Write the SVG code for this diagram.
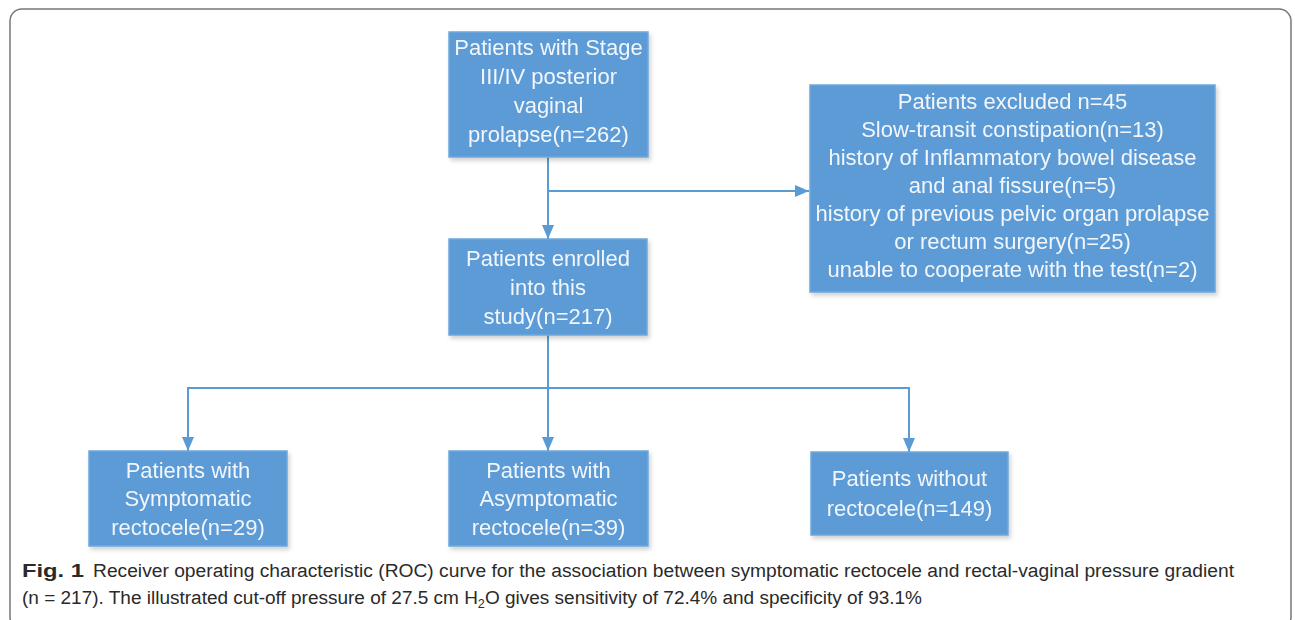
<svg xmlns="http://www.w3.org/2000/svg" width="1295" height="620" viewBox="0 0 1295 620">
<style>
.box{fill:#5b9bd5;stroke:#6fa8dc;stroke-width:1.5}
.bt{font-family:"Liberation Sans",Arial,sans-serif;font-size:22px;fill:#f2f6fb;text-anchor:middle}
.conn{stroke:#5b9bd5;stroke-width:2;fill:none}
.cap{font-family:"Liberation Sans",Arial,sans-serif;font-size:18px;fill:#2a2a2a}
</style>
<defs>
<marker id="ah2" viewBox="0 0 14 12" refX="14" refY="6" markerWidth="14" markerHeight="12" markerUnits="userSpaceOnUse" orient="auto">
<path d="M0,0 L14,6 L0,12 z" fill="#5b9bd5"/>
</marker>
<filter id="sh" x="-5%" y="-5%" width="115%" height="120%">
<feDropShadow dx="2" dy="3" stdDeviation="2" flood-color="#000" flood-opacity="0.18"/>
</filter>
</defs>
<rect x="10" y="9" width="1281" height="620" rx="12" ry="12" fill="#fff" stroke="#777" stroke-width="1.5"/>

<g id="connectors">
<line class="conn" x1="548" y1="157" x2="548" y2="239" marker-end="url(#ah2)"/>
<line class="conn" x1="548" y1="191" x2="809" y2="191" marker-end="url(#ah2)"/>
<line class="conn" x1="548" y1="335" x2="548" y2="451" marker-end="url(#ah2)"/>
<polyline class="conn" points="188,440 188,388 909,388 909,440" />
<line class="conn" x1="188" y1="400" x2="188" y2="451" marker-end="url(#ah2)"/>
<line class="conn" x1="909" y1="400" x2="909" y2="452" marker-end="url(#ah2)"/>
</g>

<g id="n_start" filter="url(#sh)">
<rect class="box" x="449" y="32" width="199" height="125"/>
<text class="bt" x="548.5" y="55">Patients with Stage</text>
<text class="bt" x="548.5" y="84">III/IV posterior</text>
<text class="bt" x="548.5" y="113">vaginal</text>
<text class="bt" x="548.5" y="142">prolapse(n=262)</text>
</g>

<g id="n_excluded" filter="url(#sh)">
<rect class="box" x="810" y="85" width="405" height="207"/>
<text class="bt" x="1012.5" y="109">Patients excluded n=45</text>
<text class="bt" x="1012.5" y="137">Slow-transit constipation(n=13)</text>
<text class="bt" x="1012.5" y="165">history of Inflammatory bowel disease</text>
<text class="bt" x="1012.5" y="193">and anal fissure(n=5)</text>
<text class="bt" x="1012.5" y="221">history of previous pelvic organ prolapse</text>
<text class="bt" x="1012.5" y="249">or rectum surgery(n=25)</text>
<text class="bt" x="1012.5" y="277">unable to cooperate with the test(n=2)</text>
</g>

<g id="n_enrolled" filter="url(#sh)">
<rect class="box" x="449" y="239" width="198" height="96"/>
<text class="bt" x="548" y="266">Patients enrolled</text>
<text class="bt" x="548" y="295">into this</text>
<text class="bt" x="548" y="324">study(n=217)</text>
</g>

<g id="n_symptomatic" filter="url(#sh)">
<rect class="box" x="89" y="451" width="198" height="95"/>
<text class="bt" x="188" y="478">Patients with</text>
<text class="bt" x="188" y="506">Symptomatic</text>
<text class="bt" x="188" y="535">rectocele(n=29)</text>
</g>

<g id="n_asymptomatic" filter="url(#sh)">
<rect class="box" x="449" y="451" width="199" height="95"/>
<text class="bt" x="548.5" y="478">Patients with</text>
<text class="bt" x="548.5" y="506">Asymptomatic</text>
<text class="bt" x="548.5" y="535">rectocele(n=39)</text>
</g>

<g id="n_without" filter="url(#sh)">
<rect class="box" x="811" y="452" width="197" height="83"/>
<text class="bt" x="909.5" y="486">Patients without</text>
<text class="bt" x="909.5" y="516">rectocele(n=149)</text>
</g>

<g id="caption">
<text class="cap" x="22" y="577" font-weight="bold" textLength="62" lengthAdjust="spacingAndGlyphs">Fig. 1</text>
<text class="cap" x="93" y="577" textLength="1141" lengthAdjust="spacingAndGlyphs">Receiver operating characteristic (ROC) curve for the association between symptomatic rectocele and rectal-vaginal pressure gradient</text>
<text class="cap" x="22" y="604" textLength="900" lengthAdjust="spacingAndGlyphs">(n = 217). The illustrated cut-off pressure of 27.5 cm H<tspan font-size="12" dy="4">2</tspan><tspan dy="-4">O gives sensitivity of 72.4% and specificity of 93.1%</tspan></text>
</g>
</svg>
